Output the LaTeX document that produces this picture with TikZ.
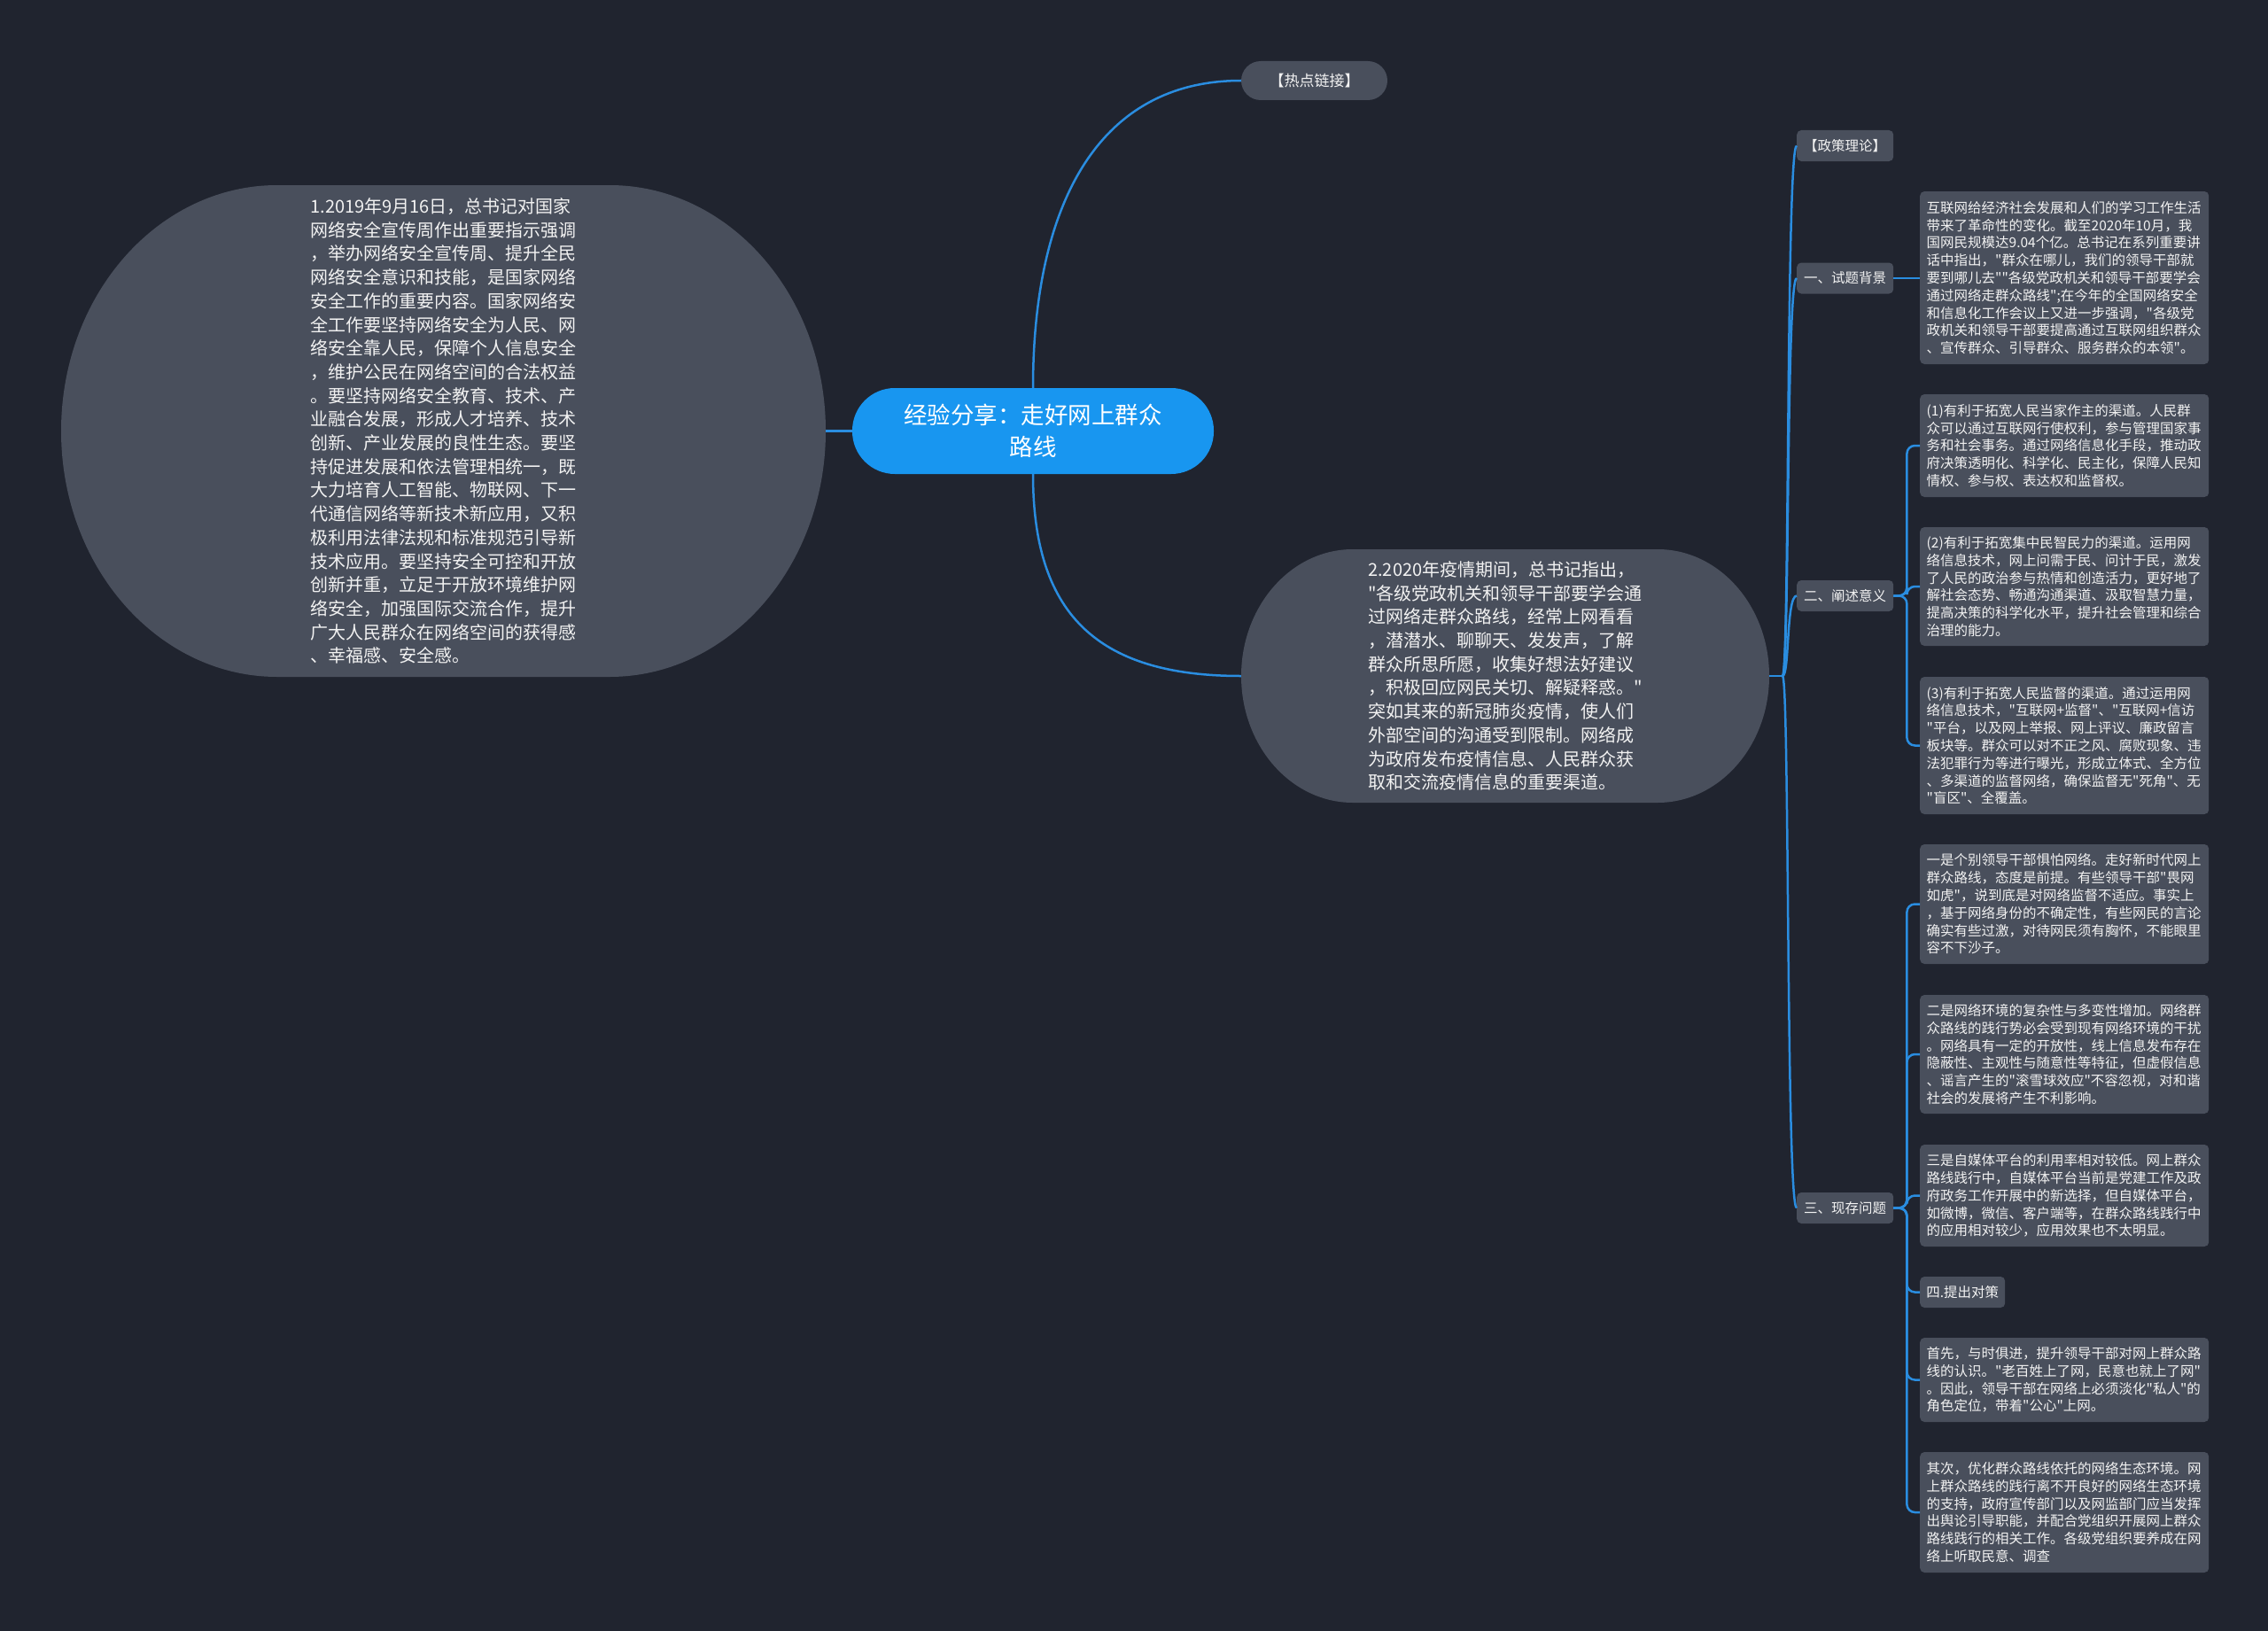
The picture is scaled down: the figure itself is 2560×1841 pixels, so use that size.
\documentclass[tikz,border=0pt]{standalone}
\usepackage{fontspec}
\setmainfont{Noto Sans CJK SC}[Ligatures=TeXOff]
\definecolor{bg}{HTML}{20242F}
\definecolor{nodegray}{HTML}{494F5C}
\definecolor{mainblue}{HTML}{1896F0}
\definecolor{linkblue}{HTML}{2A8DE0}
\definecolor{txt}{HTML}{F2F2F2}
\begin{document}
\begin{tikzpicture}[x=1pt,y=-1pt,
  conn/.style={draw=linkblue,line width=2.5pt},
  blobanchor/.style={rectangle,inner sep=0pt},
  elltext/.style={text=txt,align=left,inner sep=0pt,font=\fontsize{20}{26.7}\selectfont},
  pillnode/.style={rectangle,fill=nodegray,text=txt,inner sep=0pt,minimum width=165pt,minimum height=44pt,rounded corners=22pt,font=\fontsize{17}{20}\selectfont},
  rootnode/.style={rectangle,fill=mainblue,text=white,inner sep=0pt,minimum width=408pt,minimum height=97pt,rounded corners=48pt,align=center,font=\fontsize{26.5}{36}\selectfont},
  lvlone/.style={rectangle,rounded corners=5pt,fill=nodegray,text=txt,minimum width=109pt,minimum height=35pt,inner sep=0pt,anchor=west,font=\fontsize{15.5}{19.8}\selectfont},
  textbox/.style={rectangle,rounded corners=5pt,fill=nodegray,text=txt,text width=311pt,inner xsep=7.5pt,inner ysep=0pt,align=left,anchor=west,font=\fontsize{15.5}{19.8}\selectfont},
  shortbox/.style={rectangle,rounded corners=5pt,fill=nodegray,text=txt,minimum width=96pt,minimum height=35pt,inner sep=0pt,anchor=west,font=\fontsize{15.5}{19.8}\selectfont},
]
\useasboundingbox (0,0) rectangle (2560,1841);
\fill[bg] (0,0) rectangle (2560,1841);

% left rounded blob
\fill[nodegray] (313,209) -- (688,209) .. controls (822.8,209) and (932,333.2) .. (932,486.5) .. controls (932,639.8) and (822.8,764) .. (688,764) -- (313,764) .. controls (178.2,764) and (69,639.8) .. (69,486.5) .. controls (69,333.2) and (178.2,209) .. (313,209) -- cycle;
\node[blobanchor,minimum width=863pt,minimum height=555pt] (left) at (500.5,486.5) {};
\node[elltext] (lefttext) at (left.center) {1.2019年9月16日，总书记对国家\\网络安全宣传周作出重要指示强调\\，举办网络安全宣传周、提升全民\\网络安全意识和技能，是国家网络\\安全工作的重要内容。国家网络安\\全工作要坚持网络安全为人民、网\\络安全靠人民，保障个人信息安全\\，维护公民在网络空间的合法权益\\。要坚持网络安全教育、技术、产\\业融合发展，形成人才培养、技术\\创新、产业发展的良性生态。要坚\\持促进发展和依法管理相统一，既\\大力培育人工智能、物联网、下一\\代通信网络等新技术新应用，又积\\极利用法律法规和标准规范引导新\\技术应用。要坚持安全可控和开放\\创新并重，立足于开放环境维护网\\络安全，加强国际交流合作，提升\\广大人民群众在网络空间的获得感\\、幸福感、安全感。};

\node[rootnode] (root) at (1166,486.5) {经验分享：走好网上群众\\路线};

\node[pillnode] (hot) at (1483.5,91) {【热点链接】};

% right rounded blob
\fill[nodegray] (1527,620) -- (1871,620) .. controls (1940.6,620) and (1997,684) .. (1997,763) .. controls (1997,842) and (1940.6,906) .. (1871,906) -- (1527,906) .. controls (1457.4,906) and (1401,842) .. (1401,763) .. controls (1401,684) and (1457.4,620) .. (1527,620) -- cycle;
\node[blobanchor,minimum width=596pt,minimum height=286pt] (right) at (1699,763) {};
\node[elltext] (righttext) at (right.center) {2.2020年疫情期间，总书记指出，\\"各级党政机关和领导干部要学会通\\过网络走群众路线，经常上网看看\\，潜潜水、聊聊天、发发声，了解\\群众所思所愿，收集好想法好建议\\，积极回应网民关切、解疑释惑。"\\突如其来的新冠肺炎疫情，使人们\\外部空间的沟通受到限制。网络成\\为政府发布疫情信息、人民群众获\\取和交流疫情信息的重要渠道。};

% level one
\node[lvlone] (zc) at (2028,164.5) {【政策理论】};
\node[lvlone] (bj) at (2028,314) {一、试题背景};
\node[lvlone] (yy) at (2028,672.5) {二、阐述意义};
\node[lvlone] (wt) at (2028,1363.5) {三、现存问题};

% level two
\node[textbox,minimum height=195pt] (ba) at (2167,313.5) {互联网给经济社会发展和人们的学习工作生活\\带来了革命性的变化。截至2020年10月，我\\国网民规模达9.04个亿。总书记在系列重要讲\\话中指出，"群众在哪儿，我们的领导干部就\\要到哪儿去""各级党政机关和领导干部要学会\\通过网络走群众路线";在今年的全国网络安全\\和信息化工作会议上又进一步强调，"各级党\\政机关和领导干部要提高通过互联网组织群众\\、宣传群众、引导群众、服务群众的本领"。};

\node[textbox,minimum height=116pt] (b1) at (2167,503) {(1)有利于拓宽人民当家作主的渠道。人民群\\众可以通过互联网行使权利，参与管理国家事\\务和社会事务。通过网络信息化手段，推动政\\府决策透明化、科学化、民主化，保障人民知\\情权、参与权、表达权和监督权。};

\node[textbox,minimum height=134pt] (b2) at (2167,662) {(2)有利于拓宽集中民智民力的渠道。运用网\\络信息技术，网上问需于民、问计于民，激发\\了人民的政治参与热情和创造活力，更好地了\\解社会态势、畅通沟通渠道、汲取智慧力量，\\提高决策的科学化水平，提升社会管理和综合\\治理的能力。};

\node[textbox,minimum height=155pt] (b3) at (2167,841.5) {(3)有利于拓宽人民监督的渠道。通过运用网\\络信息技术，"互联网+监督"、"互联网+信访\\"平台，以及网上举报、网上评议、廉政留言\\板块等。群众可以对不正之风、腐败现象、违\\法犯罪行为等进行曝光，形成立体式、全方位\\、多渠道的监督网络，确保监督无"死角"、无\\"盲区"、全覆盖。};

\node[textbox,minimum height=135pt] (c1) at (2167,1020.5) {一是个别领导干部惧怕网络。走好新时代网上\\群众路线，态度是前提。有些领导干部"畏网\\如虎"，说到底是对网络监督不适应。事实上\\，基于网络身份的不确定性，有些网民的言论\\确实有些过激，对待网民须有胸怀，不能眼里\\容不下沙子。};

\node[textbox,minimum height=134pt] (c2) at (2167,1190) {二是网络环境的复杂性与多变性增加。网络群\\众路线的践行势必会受到现有网络环境的干扰\\。网络具有一定的开放性，线上信息发布存在\\隐蔽性、主观性与随意性等特征，但虚假信息\\、谣言产生的"滚雪球效应"不容忽视，对和谐\\社会的发展将产生不利影响。};

\node[textbox,minimum height=115pt] (c3) at (2167,1349.5) {三是自媒体平台的利用率相对较低。网上群众\\路线践行中，自媒体平台当前是党建工作及政\\府政务工作开展中的新选择，但自媒体平台，\\如微博，微信、客户端等，在群众路线践行中\\的应用相对较少，应用效果也不太明显。};

\node[shortbox] (c4) at (2167,1458.5) {四.提出对策};

\node[textbox,minimum height=95pt] (c5) at (2167,1557.5) {首先，与时俱进，提升领导干部对网上群众路\\线的认识。"老百姓上了网，民意也就上了网"\\。因此，领导干部在网络上必须淡化"私人"的\\角色定位，带着"公心"上网。};

\node[textbox,minimum height=136pt] (c6) at (2167,1707) {其次，优化群众路线依托的网络生态环境。网\\上群众路线的践行离不开良好的网络生态环境\\的支持，政府宣传部门以及网监部门应当发挥\\出舆论引导职能，并配合党组织开展网上群众\\路线践行的相关工作。各级党组织要养成在网\\络上听取民意、调查};

% connectors
\draw[conn] (left.east) -- (root.west);
\draw[conn] (root.north) .. controls (1166,230) and (1240,91) .. (hot.west);
\draw[conn] (root.south) .. controls (1166,690) and (1235,763) .. (right.west);

\coordinate (J) at (2012,763);
\draw[conn] (right.east) -- (J);
\foreach \n/\yy in {zc/164.5,bj/314,yy/672.5,wt/1363.5}{
  \draw[conn] (J) .. controls (2020,763) and (2016,\yy) .. (\n.west);
}
\draw[conn] (bj.east) -- (bj.east -| ba.west);
\foreach \n in {b1,b2,b3}{
  \draw[conn,rounded corners=9pt] (yy.east) -- ++(15,0) |- (\n.west);
}
\foreach \n in {c1,c2,c3,c4,c5,c6}{
  \draw[conn,rounded corners=9pt] (wt.east) -- ++(15,0) |- (\n.west);
}
\end{tikzpicture}
\end{document}
